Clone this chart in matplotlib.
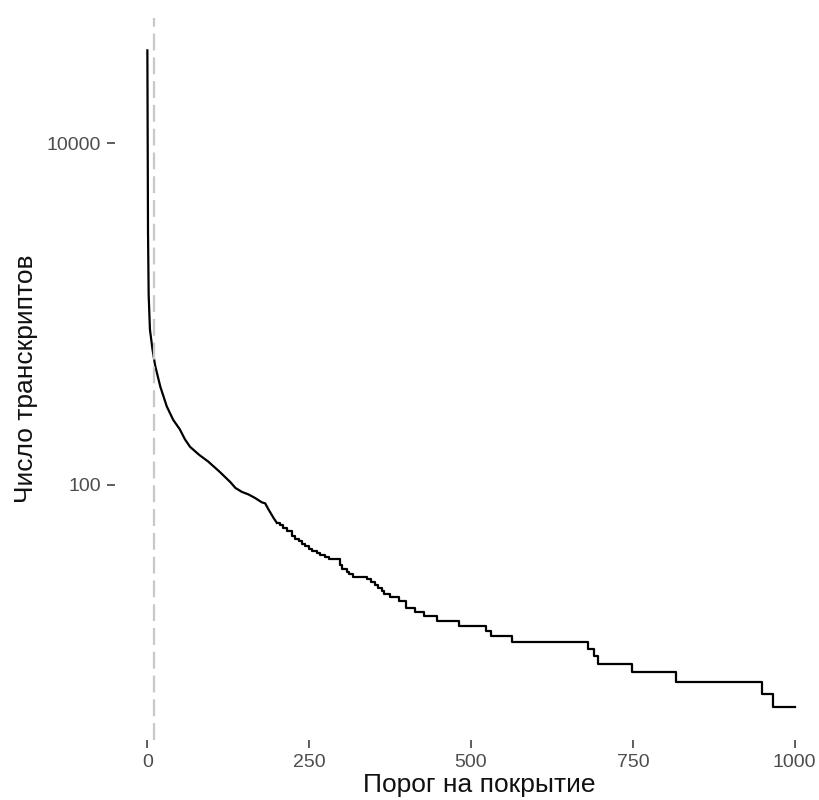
import numpy as np
import matplotlib
matplotlib.use("Agg")
import matplotlib.pyplot as plt

plt.rcParams['font.family'] = ['Liberation Sans', 'DejaVu Sans']

# smooth upper part of the curve (threshold, number of transcripts)
smooth_thr = [0, 1, 2, 4, 8, 12, 20, 30, 40, 50, 58, 66, 80, 94, 112, 128,
              136, 146, 156, 166, 177, 182, 187, 195, 200]
smooth_cnt = [35000, 3000, 1300, 810, 620, 500, 376, 288, 240, 212, 185, 167,
              150, 137, 119, 104, 96, 91, 88, 84, 79, 78, 72, 64, 60]

# stepped tail (threshold where the count starts, count)
step_thr = [200, 205, 210, 216, 223, 228, 234, 239, 244, 249, 254, 262, 267,
            274, 280, 298, 300, 308, 312, 318, 340, 346, 352, 356, 362, 366,
            375, 388, 400, 413, 427, 447, 482, 523, 531, 564, 680, 690, 696,
            749, 816, 949, 967, 1000]
step_cnt = [60, 58, 56, 54, 50, 48, 47, 45, 44, 42, 41, 40, 39, 38, 37, 34,
            32, 31, 30, 29, 28, 27, 26, 25, 24, 23, 22, 21, 19, 18, 17, 16,
            15, 14, 13, 12, 11, 10, 9, 8, 7, 6, 5, 5]

cutoff = 10
x_ticks = [0, 250, 500, 750, 1000]
y_ticks = [100, 10000]

W, H = 819, 800
fig = plt.figure(figsize=(W / 100, H / 100), dpi=100)
ax = fig.add_axes([115 / W, 60 / H, 712 / W, 722.4 / H])

ax.plot(smooth_thr, smooth_cnt, color='black', lw=1.6, solid_joinstyle='round')
ax.step(step_thr, step_cnt, where='post', color='black', lw=1.6)
ax.axvline(cutoff, color='#c8c8c8', lw=1.6, linestyle=(0, (7.6, 3.1)), zorder=3)

ax.set_yscale('log')
ax.set_xlim(-50, 1050)
ax.set_ylim(10 ** 0.5064, 10 ** 4.736)
ax.set_xticks(x_ticks)
ax.set_xticklabels([str(t) for t in x_ticks])
ax.set_yticks(y_ticks)
ax.set_yticklabels([str(t) for t in y_ticks])
ax.yaxis.set_minor_locator(matplotlib.ticker.NullLocator())

for s in ax.spines.values():
    s.set_visible(False)

ax.tick_params(axis='both', length=5.5, width=1.1, color='#333333',
               labelcolor='#4d4d4d', labelsize=14, pad=4.5)

ax.set_xlabel('Порог на покрытие', fontsize=19, color='#111111')
ax.set_ylabel('Число транскриптов', fontsize=19, color='#111111')
ax.xaxis.set_label_coords(0.511, -0.046)
ax.yaxis.set_label_coords(-0.108, 0.5)

fig.savefig('out.png', dpi=100, facecolor='white')
